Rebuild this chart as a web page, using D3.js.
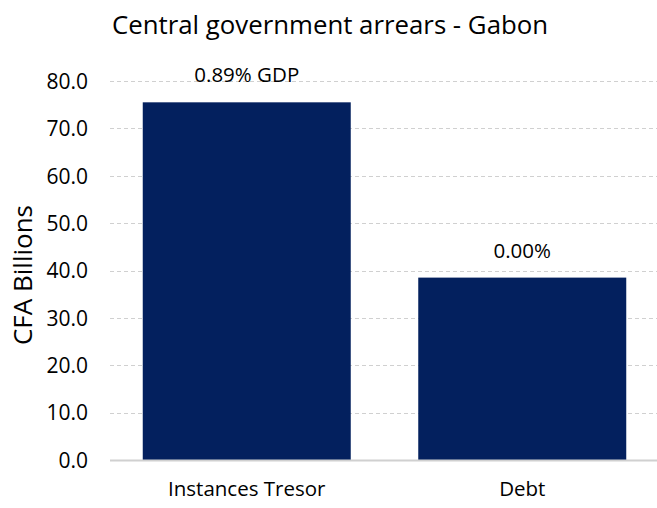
<!DOCTYPE html>
<html>
<head>
<meta charset="utf-8">
<script src="https://cdn.jsdelivr.net/npm/d3@7"></script>
<style>
  html, body { margin: 0; padding: 0; background: #fff; }
  svg { display: block; }
  text { font-family: "Open Sans", "Noto Sans", sans-serif; fill: #000; }
</style>
</head>
<body>
<svg id="chart" width="657" height="508"></svg>
<script>
const categories = ["Instances Tresor", "Debt"];
const values = [75.5, 38.5];
const barLabels = ["0.89% GDP", "0.00%"];
const yTicks = [0, 10, 20, 30, 40, 50, 60, 70, 80];
const titleText = "Central government arrears - Gabon";
const yAxisTitle = "CFA Billions";

const W = 657, H = 508;
const plot = { left: 109, right: 660, top: 81, bottom: 460 };
const svg = d3.select("#chart");

const x = d3.scaleBand().domain(categories)
  .range([plot.left, plot.right]).paddingInner(0.245).paddingOuter(0.1225);
const y = d3.scaleLinear().domain([0, 80]).range([plot.bottom, plot.top]);

// gridlines
svg.append("g").selectAll("line").data(yTicks.filter(d => d > 0)).join("line")
  .attr("x1", plot.left + 1).attr("x2", W)
  .attr("y1", d => Math.round(y(d)) + 0.5).attr("y2", d => Math.round(y(d)) + 0.5)
  .attr("stroke", "#d0d0d0").attr("stroke-width", 1.2).attr("stroke-dasharray", "4,3");

// bars
svg.append("g").selectAll("rect").data(values).join("rect")
  .attr("x", (d, i) => x(categories[i]))
  .attr("width", x.bandwidth())
  .attr("y", d => y(d))
  .attr("height", d => y(0) - y(d))
  .attr("fill", "#03205e");

// baseline
svg.append("line").attr("x1", plot.left + 1).attr("x2", W)
  .attr("y1", y(0) + 0.5).attr("y2", y(0) + 0.5)
  .attr("stroke", "#d0d0d0").attr("stroke-width", 2);

// y axis tick labels
const yAxis = d3.axisLeft(y).tickValues(yTicks).tickFormat(d3.format(".1f")).tickSize(0).tickPadding(0);
const gy = svg.append("g").attr("transform", `translate(88,0)`).call(yAxis);
gy.select(".domain").remove();
gy.selectAll("text").attr("font-size", 21).attr("font-family", "Open Sans").attr("fill", "#000").attr("dy", "0.35em");

// x axis labels
const xAxis = d3.axisBottom(x).tickSize(0).tickPadding(0);
const gx = svg.append("g").attr("transform", `translate(0,481)`).call(xAxis);
gx.select(".domain").remove();
gx.selectAll("text").attr("font-size", 20.5).attr("font-family", "Open Sans").attr("fill", "#000").attr("dy", "0.71em");

// bar labels
svg.append("g").selectAll("text").data(values).join("text")
  .attr("x", (d, i) => x(categories[i]) + x.bandwidth() / 2)
  .attr("y", d => y(d) - 20)
  .attr("text-anchor", "middle").attr("font-size", 20.5)
  .text((d, i) => barLabels[i]);

// title
svg.append("text").attr("x", 330).attr("y", 34).attr("text-anchor", "middle")
  .attr("font-size", 25.8).text(titleText);

// y axis title
svg.append("text").attr("transform", `translate(32,275) rotate(-90)`)
  .attr("text-anchor", "middle").attr("font-size", 26).text(yAxisTitle);
</script>
</body>
</html>
